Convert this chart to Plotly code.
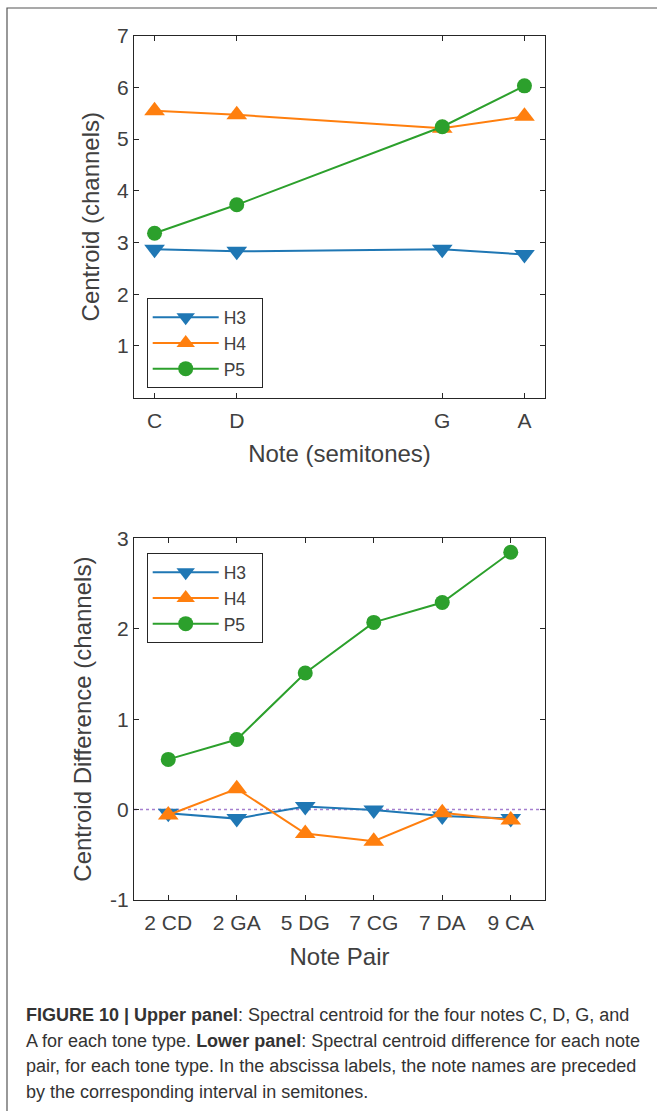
import plotly.graph_objects as go

# ---------------- data ----------------
notes = ["C", "D", "G", "A"]
note_semitones = [0, 2, 7, 9]
upper_H3 = [2.87, 2.83, 2.87, 2.77]
upper_H4 = [5.55, 5.47, 5.21, 5.44]
upper_P5 = [3.18, 3.73, 5.24, 6.03]
upper_yticks = [1, 2, 3, 4, 5, 6, 7]

pairs = ["2 CD", "2 GA", "5 DG", "7 CG", "7 DA", "9 CA"]
pair_index = [1, 2, 3, 4, 5, 6]
lower_H3 = [-0.04, -0.10, 0.035, -0.005, -0.07, -0.10]
lower_H4 = [-0.06, 0.23, -0.265, -0.35, -0.035, -0.115]
lower_P5 = [0.555, 0.775, 1.51, 2.07, 2.29, 2.845]
lower_yticks = [-1, 0, 1, 2, 3]
lower_yticktext = ["-1", "0", "1", "2", "3"]

series_names = ["H3", "H4", "P5"]
colors = ["#1f77b4", "#ff7f0e", "#2ca02c"]
symbols = ["triangle-down", "triangle-up", "circle"]
sizes = [18, 18, 15]

W, H = 657, 1111
FONT = "Liberation Sans, Arial, Helvetica, sans-serif"
TXT = "#404040"
AX = "#262626"
PAD = "\u00a0\u00a0"  # trailing space to widen legend box like the original

def px_x(p):
    return p / W

def px_y(p):
    return 1 - p / H

fig = go.Figure()

for name, ys, c, s, sz in zip(series_names, [upper_H3, upper_H4, upper_P5], colors, symbols, sizes):
    fig.add_trace(go.Scatter(x=note_semitones, y=ys, name=name + PAD, mode="lines+markers",
                             line=dict(color=c, width=2),
                             marker=dict(symbol=s, size=sz, color=c),
                             xaxis="x", yaxis="y", legend="legend"))

for name, ys, c, s, sz in zip(series_names, [lower_H3, lower_H4, lower_P5], colors, symbols, sizes):
    fig.add_trace(go.Scatter(x=pair_index, y=ys, name=name + PAD, mode="lines+markers",
                             line=dict(color=c, width=2),
                             marker=dict(symbol=s, size=sz, color=c),
                             xaxis="x2", yaxis="y2", legend="legend2"))

axis_common = dict(showgrid=False, zeroline=False, showline=True, linecolor=AX, linewidth=1,
                   mirror="ticks", ticks="inside", ticklen=5, tickcolor=AX, tickwidth=1,
                   automargin=False,
                   tickfont=dict(family=FONT, size=21, color=TXT),
                   title_font=dict(family=FONT, size=24, color=TXT))

legend_common = dict(xanchor="left", yanchor="top", bgcolor="white", bordercolor=AX, borderwidth=1,
                     font=dict(family=FONT, size=17.5, color=TXT), itemwidth=66,
                     tracegroupgap=0)

fig.update_layout(
    width=W, height=H,
    margin=dict(l=0, r=0, t=0, b=0),
    paper_bgcolor="white", plot_bgcolor="white",
    font=dict(family=FONT, color=TXT),
    xaxis=dict(axis_common, domain=[px_x(134), px_x(545)], range=[-0.5, 9.5],
               tickvals=note_semitones, ticktext=notes, anchor="y", ticklabelstandoff=4,
               title=dict(text="Note (semitones)", standoff=14)),
    yaxis=dict(axis_common, domain=[px_y(397.7), px_y(35.7)], range=[0, 7],
               tickvals=upper_yticks, anchor="x",
               title=dict(text="Centroid (channels)", standoff=10)),
    xaxis2=dict(axis_common, domain=[px_x(134), px_x(545)], range=[0.5, 6.5],
                tickvals=pair_index, ticktext=pairs, anchor="y2", ticklabelstandoff=4,
                title=dict(text="Note Pair", standoff=14)),
    yaxis2=dict(axis_common, domain=[px_y(900), px_y(538.3)], range=[-1, 3],
                tickvals=lower_yticks, ticktext=lower_yticktext, anchor="x2",
                title=dict(text="Centroid Difference (channels)", standoff=11)),
    legend=dict(legend_common, x=px_x(146.7), y=px_y(298.3)),
    legend2=dict(legend_common, x=px_x(146.7), y=px_y(553.3)),
    showlegend=True,
)

# zero reference line (dotted) in lower panel
fig.add_shape(type="line", xref="x2 domain", yref="y2", x0=0, x1=1, y0=0, y1=0,
              line=dict(color="#a57fcf", width=1.5, dash="dot"), layer="below")

# outer frame (cropped)
fig.add_shape(type="rect", xref="paper", yref="paper", x0=px_x(7), x1=1.2, y0=-0.2, y1=px_y(8),
              line=dict(color="#555555", width=1.2), layer="below")

caption_lines = [
    "<b>FIGURE 10 | Upper panel</b>: Spectral centroid for the four notes C, D, G, and",
    "A for each tone type. <b>Lower panel</b>: Spectral centroid difference for each note",
    "pair, for each tone type. In the abscissa labels, the note names are preceded",
    "by the corresponding interval in semitones.",
]
caption_y = [1015, 1040.5, 1066, 1091.5]
for line, yy in zip(caption_lines, caption_y):
    fig.add_annotation(text=line, xref="paper", yref="paper", x=px_x(24), y=px_y(yy),
                       xanchor="left", yanchor="middle", showarrow=False,
                       font=dict(family="Liberation Sans Narrow, Liberation Sans, Arial", size=18, color="#333333"))

fig.write_html("out.html")
